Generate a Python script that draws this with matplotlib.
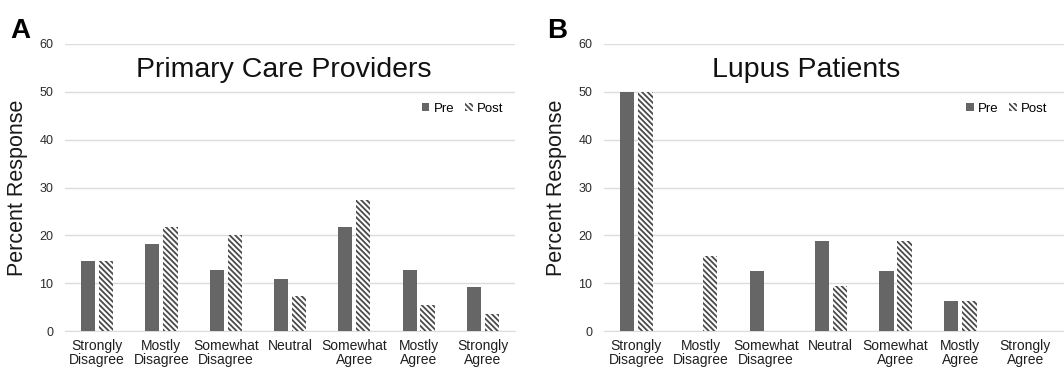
import numpy as np
import matplotlib
matplotlib.use('Agg')
import matplotlib.pyplot as plt

plt.rcParams['font.family'] = ['Liberation Sans', 'DejaVu Sans']
plt.rcParams['hatch.linewidth'] = 1.3
plt.rcParams['hatch.color'] = '#4a4a4a'

categories = ['Strongly\nDisagree', 'Mostly\nDisagree', 'Somewhat\nDisagree', 'Neutral',
              'Somewhat\nAgree', 'Mostly\nAgree', 'Strongly\nAgree']

# Primary care providers (A)
pcp_pre = [14.6, 18.2, 12.7, 10.9, 21.8, 12.7, 9.1]
pcp_post = [14.6, 21.8, 20.0, 7.3, 27.3, 5.5, 3.6]

# Lupus patients (B)
lupus_pre = [50.0, 0, 12.5, 18.75, 12.5, 6.25, 0]
lupus_post = [50.0, 15.6, 0, 9.4, 18.75, 6.25, 0]

yticks = [0, 10, 20, 30, 40, 50, 60]

W, H = 1064, 370
fig = plt.figure(figsize=(W / 100, H / 100), dpi=100)

bar_w = 0.22
off = 0.14
pre_color = '#666666'
grid_color = '#dcdcdc'


def draw_panel(left, right, pre, post, title, letter, letter_x, xmax, title_x, leg_x):
    ax = fig.add_axes([left / W, 1 - 331 / H, (right - left) / W, (331 - 44) / H])
    x = np.arange(len(categories))
    ax.bar(x - off, pre, bar_w, color=pre_color, label='Pre', zorder=3)
    ax.bar(x + off, post, bar_w, color='white', hatch='\\\\\\\\\\\\',
           edgecolor='#4a4a4a', linewidth=0, label='Post', zorder=3)
    ax.set_xlim(-0.5, xmax)
    ax.set_ylim(0, 60)
    ax.set_yticks(yticks)
    ax.set_xticks(x)
    ax.set_xticklabels(categories, fontsize=10, linespacing=0.95, color='#1f1f1f')
    ax.tick_params(axis='y', length=0, pad=8.5, labelsize=9, labelcolor='#2b2b2b')
    ax.tick_params(axis='x', length=0, pad=6)
    ax.grid(axis='y', color=grid_color, linewidth=1, zorder=0)
    for s in ['top', 'right', 'left']:
        ax.spines[s].set_visible(False)
    ax.spines['bottom'].set_color(grid_color)
    ax.spines['bottom'].set_zorder(1)
    ax.set_ylabel('Percent Response', fontsize=15.5, labelpad=8, color='#1a1a1a')
    ax.text(title_x, 0.885, title, transform=ax.transAxes, ha='center', va='baseline',
            fontsize=20.5, color='#111111')
    ax.legend(loc='center right', bbox_to_anchor=(leg_x, 0.774), ncol=2, frameon=False,
              fontsize=9.5, handlelength=0.6, handleheight=0.6, handletextpad=0.3,
              columnspacing=0.8, borderaxespad=0)
    fig.text(letter_x / W, 1 - 31 / H, letter, fontsize=20, fontweight='bold',
             ha='left', va='center')
    return ax


draw_panel(65, 515, pcp_pre, pcp_post, 'Primary Care Providers', 'A', 10, 6.5, 0.485, 0.985)
draw_panel(604, 1064, lupus_pre, lupus_post, 'Lupus Patients', 'B', 547, 6.6, 0.44, 0.975)

fig.savefig('out.png', dpi=100)
